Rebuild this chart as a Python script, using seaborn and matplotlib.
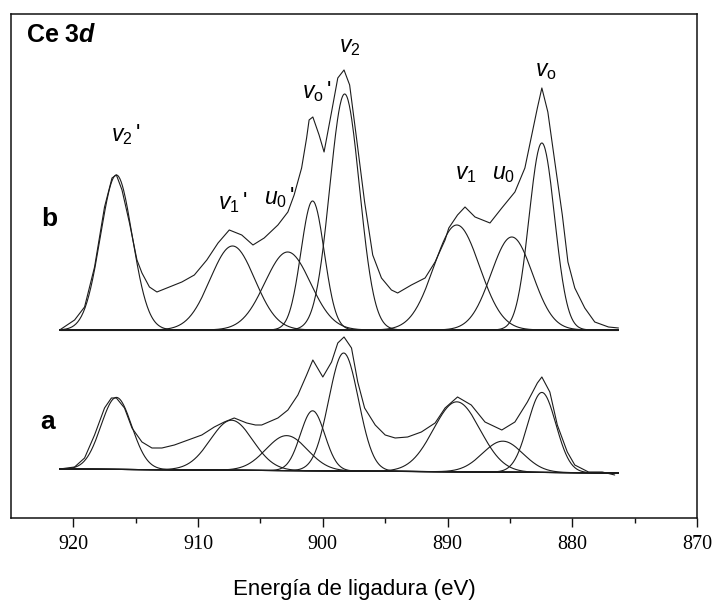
import numpy as np
import pandas as pd
import matplotlib
matplotlib.use("Agg")
import matplotlib.pyplot as plt
import seaborn as sns

# === DATA (binding energy in eV, intensity in arbitrary units) ===
# measured spectrum b (upper trace, offset already included)
b_energy = [921.1, 919.9, 919.1, 918.3, 917.5, 916.9, 916.55, 916.1, 915.5, 914.9,
            914.5, 913.9, 913.3, 912.5, 911.3, 910.3, 909.3, 908.4, 907.5, 906.5,
            905.6, 904.7, 903.6, 902.8, 902.3, 901.7, 901.3, 901.1, 900.8, 900.3,
            899.9, 899.3, 898.8, 898.3, 897.85, 897.3, 896.65, 896.0, 895.3, 894.5,
            894.0, 892.9, 891.8, 891.0, 890.2, 889.9, 889.2, 888.6, 887.8, 886.6,
            885.65, 884.6, 883.8, 883.2, 882.8, 882.44, 881.96, 881.4, 880.8, 880.35,
            879.8, 879.0, 878.2, 877.1, 876.3]
b_counts = [188, 198, 211, 251, 311, 340, 343, 328, 295, 258,
            245, 231, 226, 230, 236, 243, 258, 275, 288, 283,
            273, 280, 293, 306, 323, 350, 380, 398, 401, 383,
            366, 406, 440, 448, 433, 380, 316, 263, 240, 228,
            225, 233, 240, 256, 278, 290, 303, 311, 301, 295,
            310, 326, 350, 386, 410, 430, 406, 356, 303, 256,
            230, 210, 196, 191, 190]

# measured spectrum a (lower trace)
a_energy = [921.1, 919.9, 919.1, 918.3, 917.5, 916.95, 916.55, 915.9, 915.3, 914.5,
            913.7, 912.9, 911.9, 910.8, 909.7, 908.7, 907.9, 907.1, 906.1, 905.4,
            904.9, 903.6, 902.8, 902.0, 901.3, 900.8, 900.0, 899.3, 898.8, 898.3,
            897.7, 897.2, 896.65, 895.8, 895.0, 894.2, 893.2, 892.1, 891.0, 890.2,
            889.2, 888.1, 887.0, 885.65, 884.6, 883.6, 882.8, 882.44, 881.8, 881.2,
            880.4, 879.8, 878.7, 877.6, 876.6]
a_counts = [49, 51, 60, 83, 110, 120, 120, 110, 90, 76,
            70, 70, 73, 78, 83, 91, 96, 100, 95, 93,
            93, 100, 108, 123, 143, 158, 141, 156, 175, 181,
            170, 136, 110, 93, 83, 80, 81, 86, 95, 110,
            121, 113, 96, 88, 96, 116, 135, 141, 126, 93,
            66, 53, 46, 46, 43]

# linear baselines (start / end)
b_base = [188, 188]
a_base = [49, 45]
fit_range = [921.1, 876.3]

# fitted components: v2', v1', u0', vo', v2, v1, u0, vo
peak_names = ["v2'", "v1'", "u0'", "vo'", "v2", "v1", "u0", "vo"]
b_center = [916.55, 907.24, 902.82, 900.82, 898.25, 889.26, 884.85, 882.44]
b_height = [155, 84, 78, 129, 236, 105, 93, 187]
b_fwhm = [3.0, 4.2, 4.3, 2.2, 2.8, 4.3, 3.9, 2.4]

a_center = [916.55, 907.32, 902.9, 900.82, 898.33, 889.26, 885.57, 882.44]
a_height = [72, 50, 35, 60, 118, 70, 31, 80]
a_fwhm = [2.9, 4.0, 3.9, 2.3, 2.8, 4.4, 3.8, 2.65]

# peak labels
peak_labels = [r"$v_{\mathrm{2}}\,$'", r"$v_{\mathrm{1}}\,$'", r"$u_{\mathrm{0}}\,$'",
               r"$v_{\mathrm{o}}\,$'", r"$v_{\mathrm{2}}$", r"$v_{\mathrm{1}}$",
               r"$u_{\mathrm{0}}$", r"$v_{\mathrm{o}}$"]

LINE = "#1c1c1c"

sns.set_style("ticks")
plt.rcParams["font.family"] = ["Liberation Sans", "DejaVu Sans"]
plt.rcParams["text.color"] = "black"
plt.rcParams["axes.labelcolor"] = "black"
plt.rcParams["xtick.color"] = "#111111"
plt.rcParams["xtick.labelcolor"] = "black"
plt.rcParams["mathtext.fontset"] = "custom"
plt.rcParams["mathtext.rm"] = "Liberation Sans"
plt.rcParams["mathtext.it"] = "Liberation Sans:italic"
plt.rcParams["mathtext.bf"] = "Liberation Sans:bold:italic"

fig = plt.figure(figsize=(7.13, 6.05), dpi=100)
ax = fig.add_axes([0.0154, 0.1438, 0.9622, 0.8331])

grid = np.linspace(fit_range[0], fit_range[1], 900)


def draw_set(energy, counts, base, centers, heights, fwhms):
    bl = np.interp(grid, fit_range[::-1], base[::-1])
    # baseline
    sns.lineplot(x=grid, y=bl, ax=ax, color=LINE, lw=0.8, estimator=None)
    # components
    for c, h, w in zip(centers, heights, fwhms):
        s = w / 2.3548
        comp = bl + h * np.exp(-0.5 * ((grid - c) / s) ** 2)
        sns.lineplot(x=grid, y=comp, ax=ax, color=LINE, lw=0.8, estimator=None)
    # measured
    df = pd.DataFrame({"E": energy, "I": counts})
    sns.lineplot(data=df, x="E", y="I", ax=ax, color=LINE, lw=0.8,
                 estimator=None, sort=False)


draw_set(b_energy, b_counts, b_base, b_center, b_height, b_fwhm)
draw_set(a_energy, a_counts, a_base, a_center, a_height, a_fwhm)

ax.set_xlim(925, 870)
ax.set_ylim(0, 504)
ax.set_yticks([])
ax.set_xticks([920, 910, 900, 890, 880, 870])
ax.set_xticks([915, 905, 895, 885, 875], minor=True)
ax.tick_params(axis="x", which="major", direction="out", length=6.5, width=1.0,
               pad=6, labelsize=14.5)
ax.tick_params(axis="x", which="minor", direction="out", length=3.6, width=1.0)
for lab in ax.get_xticklabels():
    lab.set_fontfamily("Liberation Serif")
for sp in ax.spines.values():
    sp.set_visible(True)
    sp.set_linewidth(1.1)
    sp.set_color("#111111")

ax.set_xlabel("Energía de ligadura (eV)", fontsize=16, labelpad=18)
ax.set_ylabel("")

# annotations
ax.text(0.022, 0.958, r"Ce 3$\mathbf{d}$", transform=ax.transAxes, fontsize=18,
        fontweight="bold", ha="left", va="center")
ax.text(921.9, 299, "b", fontsize=19, fontweight="bold", ha="center", va="center")
ax.text(922.1, 96, "a", fontsize=19, fontweight="bold", ha="center", va="center")

label_pos = [(915.83, 383), (907.24, 315), (903.47, 320), (900.5, 426),
             (897.85, 471), (888.54, 344), (885.49, 344), (882.12, 447)]
for txt, (lx, ly) in zip(peak_labels, label_pos):
    ax.text(lx, ly, txt, fontsize=16.5, ha="center", va="center")

fig.savefig("out.png", dpi=100)
